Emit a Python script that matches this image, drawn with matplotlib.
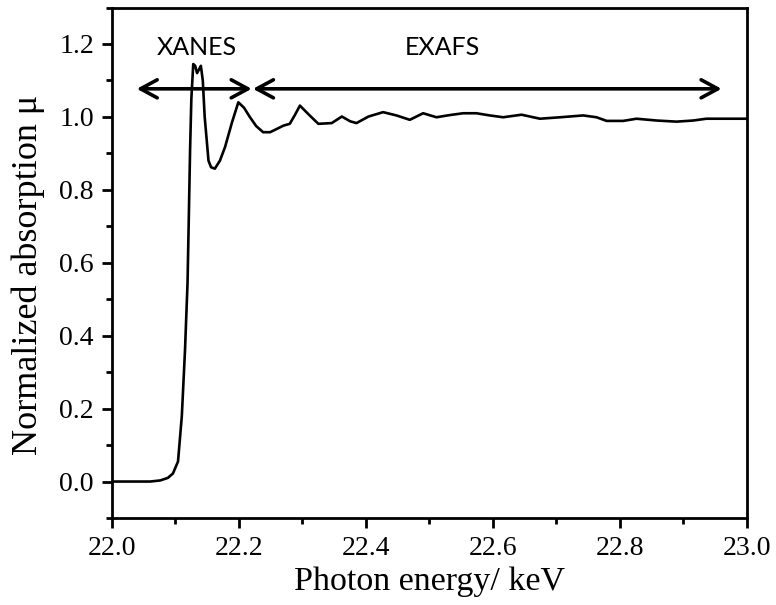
import matplotlib.pyplot as plt
from matplotlib.ticker import MultipleLocator

# absorption edge scan (keV, normalized mu)
energy = [22.000, 22.060, 22.076, 22.088, 22.096, 22.104, 22.110, 22.115, 22.119,
          22.121, 22.123, 22.125, 22.128, 22.131, 22.134, 22.137, 22.140, 22.143,
          22.146, 22.152, 22.156, 22.162, 22.170, 22.178, 22.189, 22.199, 22.208,
          22.217, 22.227, 22.238, 22.249, 22.270, 22.280, 22.288, 22.296, 22.309,
          22.325, 22.346, 22.362, 22.375, 22.385, 22.404, 22.427, 22.448, 22.469,
          22.490, 22.511, 22.532, 22.553, 22.574, 22.595, 22.616, 22.645, 22.674,
          22.706, 22.742, 22.763, 22.779, 22.805, 22.826, 22.858, 22.889, 22.915,
          22.936, 23.000]
mu = [0.000, 0.000, 0.003, 0.010, 0.022, 0.055, 0.180, 0.360, 0.545,
      0.725, 0.910, 1.050, 1.145, 1.140, 1.120, 1.130, 1.140, 1.100,
      1.000, 0.880, 0.862, 0.858, 0.880, 0.917, 0.985, 1.040, 1.025,
      1.000, 0.975, 0.958, 0.958, 0.976, 0.981, 1.005, 1.031, 1.008,
      0.981, 0.983, 1.001, 0.988, 0.983, 1.001, 1.013, 1.004, 0.992,
      1.010, 0.999, 1.005, 1.010, 1.010, 1.004, 0.999, 1.006, 0.995,
      0.999, 1.004, 0.999, 0.989, 0.989, 0.995, 0.990, 0.987, 0.990,
      0.995, 0.995]

regions = ["XANES", "EXAFS"]
region_spans = [(22.039, 22.220), (22.222, 22.960)]
label_x = [22.134, 22.52]
arrow_level = 1.077

fig = plt.figure(figsize=(7.76, 6.05), dpi=100)
ax = fig.add_axes([0.1443, 0.1438, 0.8183, 0.8438])

ax.plot(energy, mu, color="black", lw=1.9, solid_joinstyle="round")

for name, (x0, x1), lx in zip(regions, region_spans, label_x):
    ax.annotate("", xy=(x0, arrow_level), xytext=(x1, arrow_level),
                arrowprops=dict(arrowstyle="<->,head_length=1.2,head_width=0.65",
                                color="black", lw=2.6, shrinkA=0, shrinkB=0))
    ax.text(lx, 1.19, name, ha="center", va="center", fontsize=18, family="Lato")

ax.set_xlim(22.0, 23.0)
ax.set_ylim(-0.1, 1.3)
ax.xaxis.set_major_locator(MultipleLocator(0.2))
ax.xaxis.set_minor_locator(MultipleLocator(0.1))
ax.yaxis.set_major_locator(MultipleLocator(0.2))
ax.yaxis.set_minor_locator(MultipleLocator(0.1))
ax.xaxis.set_major_formatter(lambda v, p: f"{v:.1f}")
ax.yaxis.set_major_formatter(lambda v, p: f"{v:.1f}")

for s in ax.spines.values():
    s.set_linewidth(2.0)
ax.tick_params(which="major", direction="out", length=7, width=2,
               labelsize=20, pad=6)
ax.tick_params(which="minor", direction="out", length=4, width=2)
for lab in ax.get_xticklabels() + ax.get_yticklabels():
    lab.set_family("Liberation Serif")

ax.set_xlabel("Photon energy/ keV", family="Liberation Serif", fontsize=24.5, labelpad=4)
ax.set_ylabel("Normalized absorption \u03bc", family="Liberation Serif", fontsize=26)
ax.yaxis.set_label_coords(-0.105, 0.476)

fig.savefig("out.png", dpi=100)
